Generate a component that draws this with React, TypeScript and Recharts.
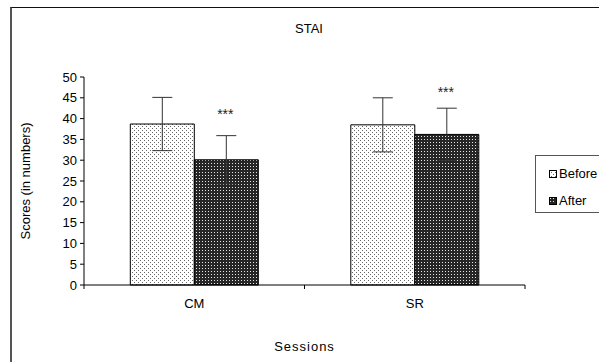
import { Bar, BarChart, ErrorBar, LabelList, XAxis, YAxis } from "recharts";

const sessions = ["CM", "SR"];
const beforeScores = [38.7, 38.5];
const afterScores = [30.1, 36.2];
const beforeSD = [6.4, 6.5];
const afterSD = [5.8, 6.3];
// height (in score units) at which the *** marks sit
const starLevels = [41.9, 47.0];
const yTicks = [0, 5, 10, 15, 20, 25, 30, 35, 40, 45, 50];

const data = sessions.map((s, i) => ({
  session: s,
  Before: beforeScores[i],
  After: afterScores[i],
  beforeErr: beforeSD[i],
  afterErr: afterSD[i],
}));

const FONT = "'Liberation Sans', Arial, sans-serif";
const W = 599;
const H = 362;
const PLOT_LEFT = 84;
const PLOT_RIGHT = 525;
const PLOT_TOP = 77;
const PLOT_BOTTOM = 285;
const X_AXIS_H = 72;
const HALF_BAND = (PLOT_RIGHT - PLOT_LEFT) / sessions.length / 2;

const SessionTick = (props: any) => {
  const { x, y, payload, index } = props;
  const axisY = y - 14;
  return (
    <g>
      {index === 0 && (
        <line x1={x - HALF_BAND} x2={x - HALF_BAND} y1={axisY} y2={axisY + 4} stroke="#000" />
      )}
      <line x1={x + HALF_BAND} x2={x + HALF_BAND} y1={axisY} y2={axisY + 4} stroke="#000" />
      <text x={x} y={y} dy="0.71em" textAnchor="middle" fontSize={13} fontFamily={FONT} fill="#000">
        {payload.value}
      </text>
    </g>
  );
};

const Stars = (props: any) => {
  const { x, y, width, height, index } = props;
  const perUnit = height / afterScores[index];
  const cy = y + height - starLevels[index] * perUnit;
  return (
    <text x={x + width / 2 - 1} y={cy + 8} textAnchor="middle" fontSize={14} fontFamily={FONT} fill="#222">
      ***
    </text>
  );
};

const YLabel = (props: any) => {
  const { viewBox } = props;
  const cx = 25;
  const cy = viewBox.y + viewBox.height / 2;
  return (
    <text
      x={cx}
      y={cy}
      transform={`rotate(-90 ${cx} ${cy})`}
      textAnchor="middle"
      dominantBaseline="central"
      fontSize={13}
      fontFamily={FONT}
      fill="#000"
    >
      Scores (in numbers)
    </text>
  );
};

const LegendSwatch = ({ fill }: { fill: string }) => (
  <svg width={8} height={8} style={{ display: "block", marginRight: 2 }}>
    <rect x={0.5} y={0.5} width={7} height={7} fill={fill} stroke="#000" />
  </svg>
);

export default function App() {
  return (
    <div style={{ position: "absolute", left: 0, top: 0, width: W, height: H, overflow: "hidden", background: "#fff" }}>
      <div
        style={{
          position: "absolute",
          left: 10,
          top: 7,
          width: 700,
          height: 500,
          borderLeft: "2px solid #555",
          borderTop: "1px solid #111",
        }}
      />
      <div
        style={{
          position: "absolute",
          left: 259,
          top: 21,
          width: 100,
          textAlign: "center",
          fontFamily: FONT,
          fontSize: 13,
          color: "#000",
        }}
      >
        STAI
      </div>
      <div style={{ position: "absolute", left: 0, top: 0 }}>
        <BarChart
          width={W}
          height={H}
          data={data}
          margin={{ top: PLOT_TOP, right: W - PLOT_RIGHT, bottom: H - PLOT_BOTTOM - X_AXIS_H, left: 0 }}
          barCategoryGap="21%"
          barGap={0}
        >
          <defs>
            <pattern id="before-dots" width="4" height="4" patternUnits="userSpaceOnUse">
              <rect width="4" height="4" fill="#fff" />
              <rect x="0" y="0" width="1" height="1" fill="#666" />
              <rect x="2" y="2" width="1" height="1" fill="#666" />
            </pattern>
            <pattern id="after-dots" width="3" height="3" patternUnits="userSpaceOnUse">
              <rect width="3" height="3" fill="#262626" />
              <rect x="1" y="1" width="1" height="1" fill="#e6e6e6" />
            </pattern>
          </defs>
          <XAxis
            dataKey="session"
            height={X_AXIS_H}
            axisLine={{ stroke: "#000" }}
            tickLine={false}
            tickSize={4}
            tickMargin={10}
            tick={(p: any) => <SessionTick {...p} />}
            label={{
              value: "Sessions",
              position: "insideBottom",
              offset: 6,
              fontSize: 13,
              fontFamily: FONT,
              fill: "#000",
              letterSpacing: 1,
            }}
          />
          <YAxis
            width={PLOT_LEFT}
            domain={[0, 50]}
            ticks={yTicks}
            interval={0}
            axisLine={{ stroke: "#000" }}
            tickLine={{ stroke: "#000" }}
            tickSize={4}
            tickMargin={3}
            tick={{ fontSize: 13, fontFamily: FONT, fill: "#000" }}
            label={(p: any) => <YLabel {...p} />}
          />
          <Bar dataKey="Before" fill="url(#before-dots)" stroke="#000" strokeWidth={1} isAnimationActive={false}>
            <ErrorBar dataKey="beforeErr" width={10} stroke="#333" strokeWidth={1} direction="y" />
          </Bar>
          <Bar dataKey="After" fill="url(#after-dots)" stroke="#000" strokeWidth={1} isAnimationActive={false}>
            <ErrorBar dataKey="afterErr" width={10} stroke="#333" strokeWidth={1} direction="y" />
            <LabelList dataKey="After" content={(p: any) => <Stars {...p} />} />
          </Bar>
        </BarChart>
      </div>
      <div
        style={{
          position: "absolute",
          left: 535,
          top: 155,
          width: 80,
          height: 58,
          border: "1px solid #555",
          boxSizing: "border-box",
          fontFamily: FONT,
          fontSize: 13,
          color: "#000",
        }}
      >
        <div style={{ position: "absolute", left: 13, top: 10, display: "flex", alignItems: "center" }}>
          <LegendSwatch fill="url(#before-dots)" />
          <span>Before</span>
        </div>
        <div style={{ position: "absolute", left: 13, top: 37, display: "flex", alignItems: "center" }}>
          <LegendSwatch fill="url(#after-dots)" />
          <span>After</span>
        </div>
      </div>
    </div>
  );
}
